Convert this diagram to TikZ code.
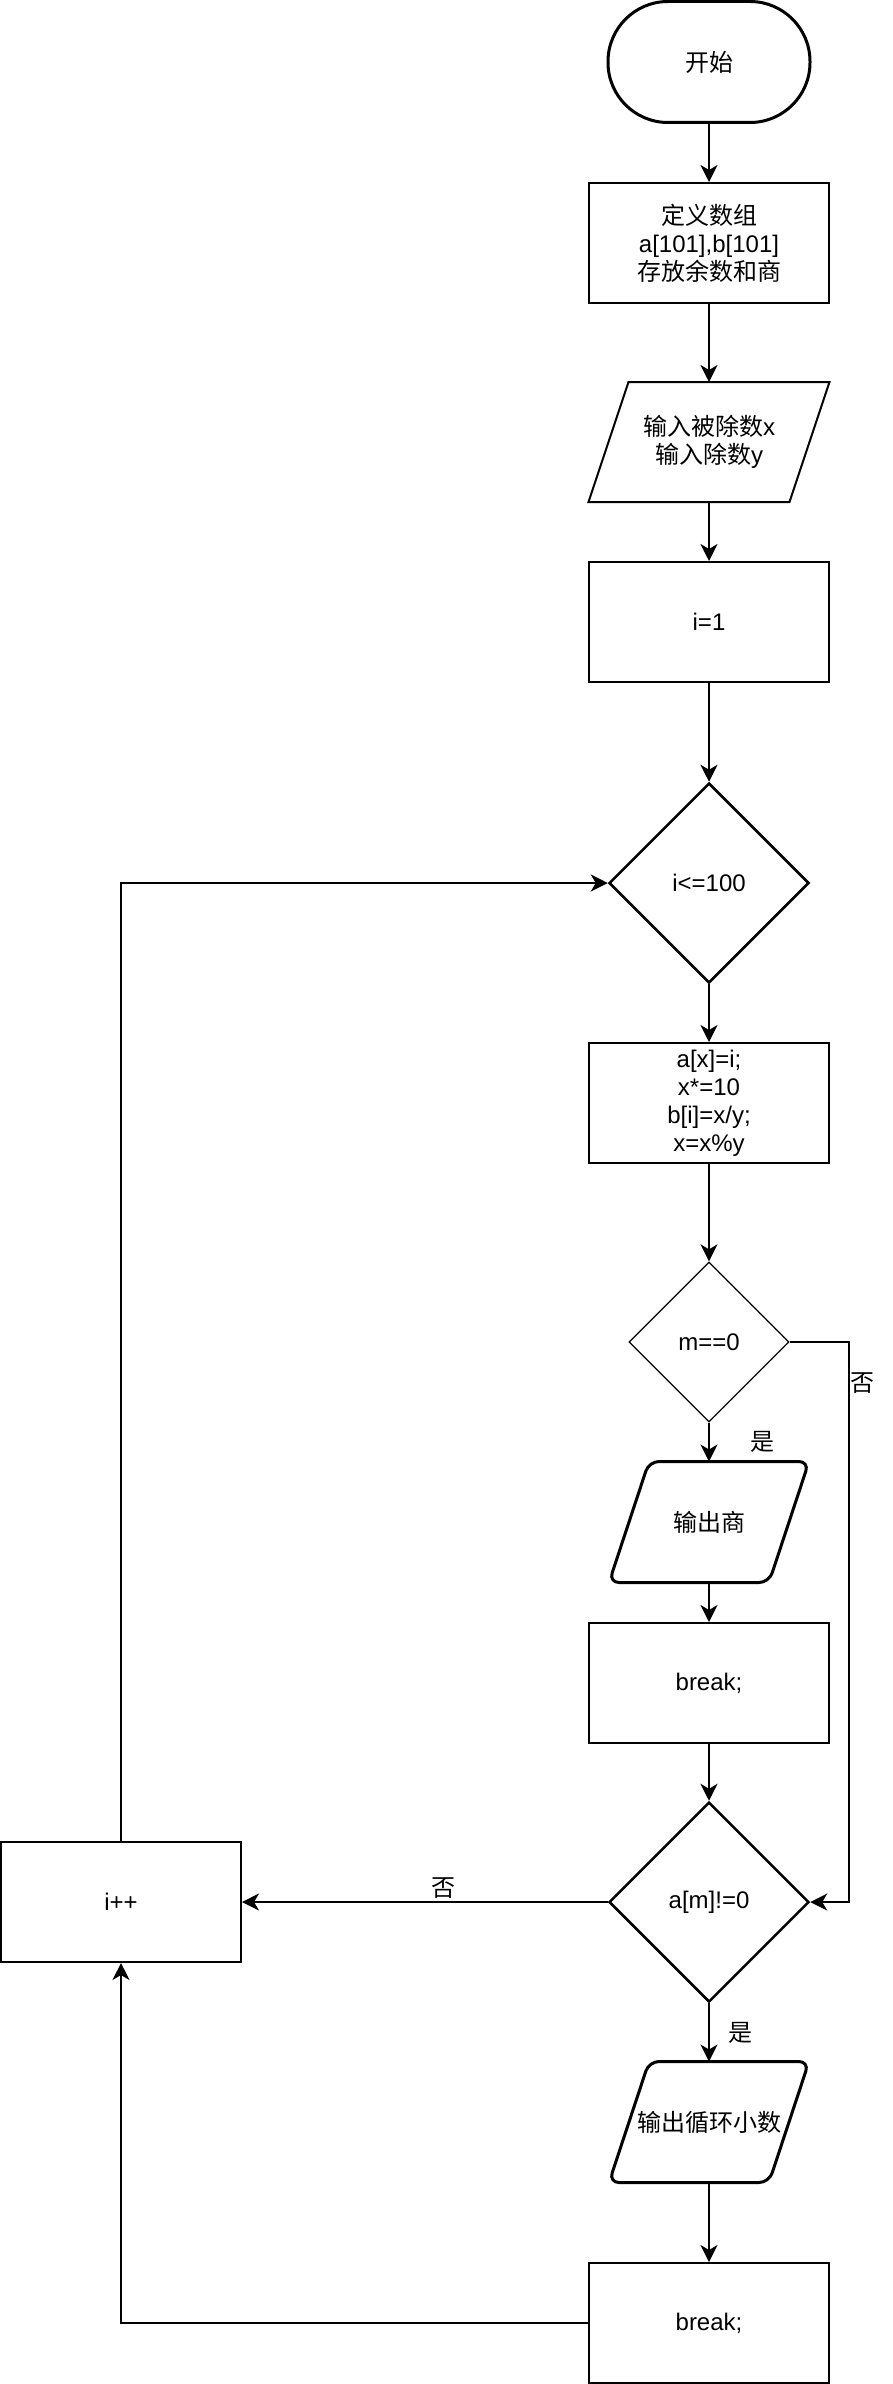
\documentclass[tikz,border=0pt]{standalone}
\usepackage{fontspec}
\setmainfont{Liberation Sans}
\newfontfamily\cjk{Noto Sans CJK SC}
\newcommand{\zh}[1]{{\cjk #1}}
\usepackage{tikz}
\usetikzlibrary{arrows.meta, shapes.geometric, positioning}

% slanted outline drawn round a plain node
\newcommand{\slantbox}[2][]{\draw[#1] ([xshift=40pt]#2.north west) -- (#2.north east)
  -- ([xshift=-40pt]#2.south east) -- (#2.south west) -- cycle;}

\tikzset{
  base/.style={draw, inner sep=0pt, align=center, font=\fontsize{24}{28}\selectfont},
  startbox/.style={base, line width=3pt, rectangle, rounded corners=60pt, minimum width=202pt, minimum height=121pt},
  procbox/.style={base, line width=2pt, rectangle, minimum width=240pt, minimum height=120pt},
  iobox/.style={base, draw=none, outer sep=0pt, rectangle, minimum width=241pt, minimum height=120pt},
  outbox/.style={iobox, minimum width=200pt, minimum height=121pt},
  decbox/.style={base, line width=2.5pt, diamond, aspect=1, minimum width=200pt, minimum height=200pt},
  arr/.style={-{Stealth[length=17pt, width=17pt, inset=5pt]}, line width=2pt},
  thinarr/.style={arr, line width=1.3pt},
  lbl/.style={inner sep=0pt, font=\fontsize{24}{28}\selectfont}
}

\begin{document}
\begin{tikzpicture}[x=1pt, y=-1pt]
\useasboundingbox (0,0) rectangle (892,2384);

\node[startbox] (start) at (709,62) {\zh{开始}};
\node[procbox] (defarr) at (709,243) {\zh{定义数组}\\a[101],b[101]\\\zh{存放余数和商}};
\node[iobox] (input) at (709,442) {\zh{输入被除数}x\\\zh{输入除数}y};
\node[procbox] (init) at (709,622) {i=1};
\node[decbox] (loop) at (709,883) {i<=100};
\node[procbox] (body) at (709,1103) {a[x]=i;\\x*=10\\b[i]=x/y;\\x=x\%y};
\node[decbox, line width=1.3pt, minimum width=160pt, minimum height=160pt] (zero) at (709,1342) {m==0};
\node[outbox] (quot) at (709,1522) {\zh{输出商}};
\node[procbox] (brk1) at (709,1683) {break;};
\node[decbox] (rem) at (709,1902) {a[m]!=0};
\node[procbox] (inc) at (121,1902) {i++};
\node[outbox] (cyc) at (709,2122) {\zh{输出循环小数}};
\node[procbox] (brk2) at (709,2323) {break;};

\slantbox[line width=2pt]{input}
\slantbox[line width=3pt, rounded corners=10pt]{quot}
\slantbox[line width=3pt, rounded corners=10pt]{cyc}

\coordinate (nr1) at (849,1342);
\coordinate (nr2) at (849,1902);

\draw[arr] (start) -- (defarr);
\draw[arr] (defarr) -- (input);
\draw[arr] (input) -- (init);
\draw[arr] (init) -- (loop);
\draw[arr] (loop) -- (body);
\draw[arr] (body) -- (zero);
\draw[arr] (zero) -- node[lbl, right=40pt] {\zh{是}} (quot);
\draw[arr] (quot) -- (brk1);
\draw[arr] (brk1) -- (rem);
\draw[thinarr] (zero.east) -- (nr1) -- node[lbl, pos=0.073, right=1pt] {\zh{否}} (nr2) -- (rem.east);
\draw[arr] (rem.west) -- node[lbl, pos=0.45, above=3pt] {\zh{否}} (inc.east);
\draw[arr] (rem) -- node[lbl, right=18pt] {\zh{是}} (cyc);
\draw[arr] (cyc) -- (brk2);
\draw[thinarr] (brk2.west) -| (inc.south);
\draw[thinarr] (inc.north) |- (loop.west);
\end{tikzpicture}
\end{document}
